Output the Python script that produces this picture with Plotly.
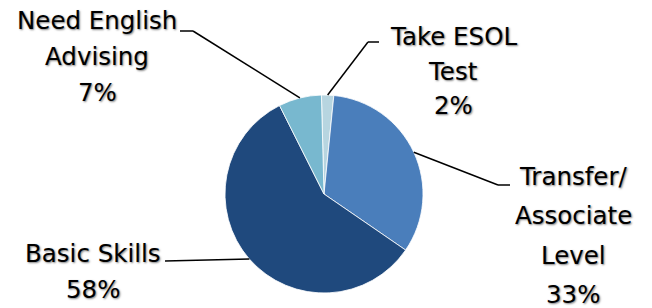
import plotly.graph_objects as go
import math

labels = ["Take ESOL Test", "Transfer/ Associate Level", "Basic Skills", "Need English Advising"]
values = [2, 33, 58, 7]
colors = ["#B7D5E0", "#4A7EBB", "#1F497D", "#78B8CF"]
label_lines = [["Take ESOL", "Test", "2%"],
               ["Transfer/", "Associate", "Level", "33%"],
               ["Basic Skills", "58%"],
               ["Need English", "Advising", "7%"]]

W, H = 652, 308
CX, CY, R = 324, 194, 99
ROT = -1.5

# layout positions (pixels) for label text and leader knees
text_pos = [(453, 36), (573, 176), (93, 253), (97, 21)]
line_gaps = [35, 39.5, 36, 35.5]
knees = [[(368, 42), (379, 42)],
         [(498, 185), (510, 185)],
         [(165, 261)],
         [(193, 31), (180, 31)]]

def px(x, y):
    return x / W, 1 - y / H

fig = go.Figure(go.Pie(
    labels=labels, values=values, sort=False, direction="clockwise",
    rotation=ROT, textinfo="none", hoverinfo="label+percent",
    marker=dict(colors=colors, line=dict(color="white", width=0.8)),
    domain=dict(x=[(CX - R) / W, (CX + R) / W], y=[1 - (CY + R) / H, 1 - (CY - R) / H]),
    showlegend=False,
))

shapes = []
annotations = []
total = sum(values)
cum = 0
for i, v in enumerate(values):
    mid = ROT + 360 * (cum + v / 2) / total
    cum += v
    ex = CX + R * math.sin(math.radians(mid))
    ey = CY - R * math.cos(math.radians(mid))
    pts = [(ex, ey)] + knees[i]
    for (x0, y0), (x1, y1) in zip(pts[:-1], pts[1:]):
        a0, b0 = px(x0, y0)
        a1, b1 = px(x1, y1)
        shapes.append(dict(type="line", xref="paper", yref="paper",
                           x0=a0, y0=b0, x1=a1, y1=b1,
                           line=dict(color="black", width=1.5)))
    tx, ty = text_pos[i]
    for j, t in enumerate(label_lines[i]):
        ax, ay = px(tx, ty + j * line_gaps[i])
        annotations.append(dict(text=t, x=ax, y=ay, xref="paper", yref="paper",
                                xanchor="center", yanchor="middle", showarrow=False,
                                font=dict(family="DejaVu Sans", size=24.5, color="black",
                                          shadow="1px 1px 2px rgba(0,0,0,0.5)")))

fig.update_layout(width=W, height=H, margin=dict(l=0, r=0, t=0, b=0),
                  paper_bgcolor="white", plot_bgcolor="white",
                  shapes=shapes, annotations=annotations)
fig.write_html("out.html", config={"displayModeBar": False},
               post_script="document.body.style.margin='0';")
